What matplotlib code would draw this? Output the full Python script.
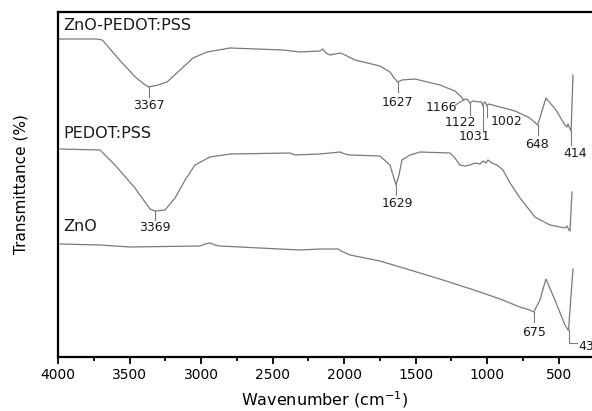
import numpy as np
import matplotlib
matplotlib.use("Agg")
import matplotlib.pyplot as plt
from matplotlib.ticker import MultipleLocator

# FTIR spectra (wavenumber cm-1, transmittance a.u.)
zp_wn = [3990, 3730, 3690, 3570, 3460, 3400, 3367, 3300, 3238, 3147, 3057, 2959,
         2798, 2428, 2309, 2169, 2150, 2127, 2099, 2029, 1994, 1925, 1750, 1680,
         1650, 1627, 1610, 1596, 1505, 1331, 1226, 1180, 1166, 1149, 1135, 1122,
         1100, 1051, 1040, 1031, 1020, 1010, 1002, 990, 911, 806, 702, 648, 632,
         590, 520, 457, 443, 436, 422, 414, 401]
zp_t = [318, 318, 317, 297, 280, 273, 270, 272, 275, 287, 299, 305,
        309, 307, 305, 306, 308, 304, 302, 304, 302, 297, 291, 285,
        279, 275, 276, 277, 278, 272, 266, 260, 257, 258, 257, 254,
        256, 255, 255, 251, 255, 254, 251, 253, 250, 246, 239, 232, 239,
        259, 247, 232, 230, 233, 228, 226, 282]

pd_wn = [3986, 3706, 3602, 3462, 3357, 3322, 3252, 3182, 3112, 3043, 2938, 2798,
         2379, 2344, 2169, 2029, 1994, 1959, 1750, 1680, 1659, 1638, 1617, 1596,
         1540, 1470, 1260, 1226, 1191, 1156, 1121, 1086, 1051, 1030, 1009, 995,
         967, 932, 890, 841, 771, 716, 667, 562, 492, 457, 443, 429, 422, 408]
pd_t = [208, 207, 192, 169, 148, 146, 147, 159, 177, 192, 200, 203,
        204, 202, 203, 205, 203, 202, 201, 192, 182, 172, 182, 197,
        202, 205, 204, 199, 192, 191, 192, 194, 193, 196, 194, 197,
        194, 192, 187, 174, 159, 149, 140, 132, 130, 129, 131, 127, 126, 165]

zn_wn = [3986, 3706, 3497, 3008, 2973, 2938, 2903, 2868, 2309, 2169, 2043, 2022,
         1959, 1750, 1540, 1331, 1051, 911, 772, 702, 675, 632, 590, 527, 457,
         436, 432, 401]
zn_t = [113, 112, 110, 111, 113, 114, 112, 111, 107, 108, 108, 106,
        102, 96, 87, 78, 65, 58, 50, 47, 45, 57, 78, 57, 32,
        27, 27, 88]

series_names = ["ZnO-PEDOT:PSS", "PEDOT:PSS", "ZnO"]

# peak labels: (text, wavenumber of marker, spectrum)
peaks = [("3367", 3367, 0), ("1627", 1627, 0), ("1166", 1166, 0), ("1122", 1122, 0),
         ("1031", 1031, 0), ("1002", 1002, 0), ("648", 648, 0), ("414", 414, 0),
         ("3369", 3322, 1), ("1629", 1638, 1),
         ("675", 675, 2), ("432", 432, 2)]

# layout of the peak labels: (text x, text y, marker end y)
peak_layout = [(3367, 252, 260), (1627, 255, 265), (1317, 250, None), (1191, 235, 242),
               (1086, 221, 227), (862, 236, 240), (653, 213, 222), (387, 204, 212),
               (3322, 130, 137), (1631, 154, 162),
               (675, 25, 35), (None, 11, 14)]

spectra = [(zp_wn, zp_t), (pd_wn, pd_t), (zn_wn, zn_t)]
name_y = [332, 224, 131]

line_col = "#7a7a7a"
text_col = "#1a1a1a"

fig = plt.figure(figsize=(5.92, 4.11), dpi=100)
ax = fig.add_axes([58 / 592, 1 - 357 / 411, 534 / 592, 345 / 411])

for wn, t in spectra:
    ax.plot(wn, t, color=line_col, lw=0.9)

for name, y in zip(series_names, name_y):
    ax.text(3965, y, name, fontsize=11.5, color=text_col, ha="left", va="center")

for (txt, w, k), (tx, ty, ly) in zip(peaks, peak_layout):
    wn, t = spectra[k]
    cy = np.interp(w, wn[::-1], t[::-1])
    if txt == "1166":
        ax.plot([1222, w], [252, cy], color=line_col, lw=0.8)
        ax.text(tx, ty, txt, fontsize=9, color=text_col, ha="center", va="center")
    elif txt == "432":
        ax.plot([w, w, 373], [cy, ly, ly], color=line_col, lw=0.8)
        ax.text(366, ty, txt, fontsize=9, color=text_col, ha="left", va="center",
                clip_on=False)
    else:
        ax.plot([w, w], [cy, ly], color=line_col, lw=0.8)
        ax.text(tx, ty, txt, fontsize=9, color=text_col, ha="center", va="center")

ax.set_xlim(4000, 268)
ax.set_ylim(0, 345)
ax.xaxis.set_major_locator(MultipleLocator(500))
ax.xaxis.set_minor_locator(MultipleLocator(250))
ax.set_yticks([])
ax.tick_params(axis="x", which="major", direction="out", length=5, width=1.3,
               labelsize=10, pad=3)
ax.tick_params(axis="x", which="minor", direction="out", length=3, width=1.3)
for s in ["top", "left", "bottom"]:
    ax.spines[s].set_linewidth(1.6)
ax.spines["right"].set_visible(False)

ax.set_xlabel("Wavenumber (cm$^{-1}$)", fontsize=11.5, labelpad=5)
ax.set_ylabel("Transmittance (%)", fontsize=11)
ax.yaxis.set_label_coords(-0.056, 0.5)

fig.savefig("out.png", dpi=100)
